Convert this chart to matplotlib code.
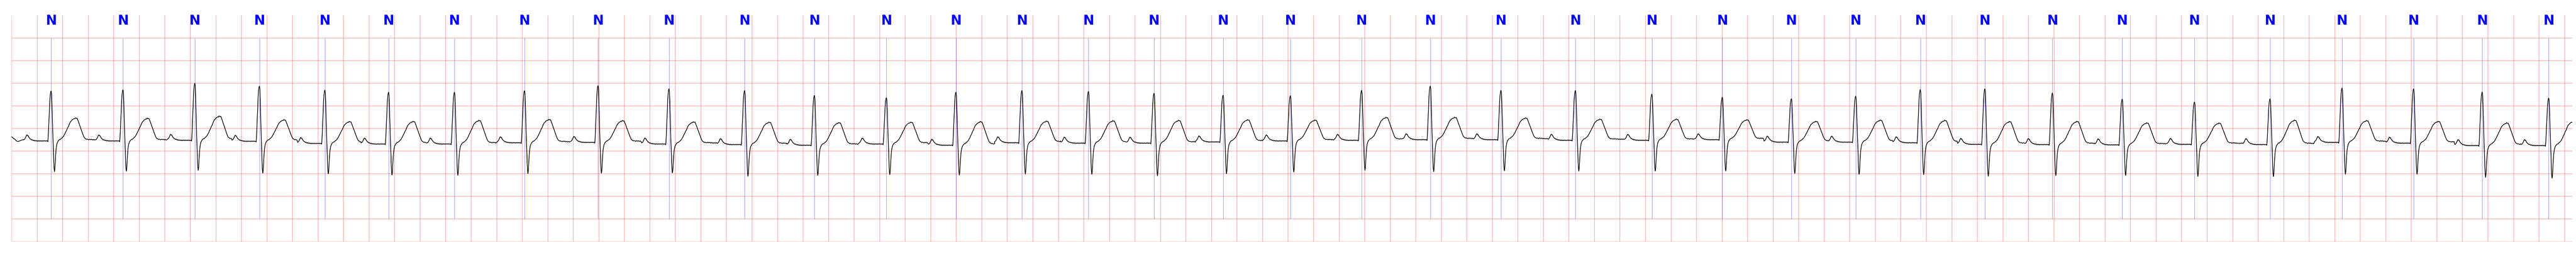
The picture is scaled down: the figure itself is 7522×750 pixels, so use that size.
import numpy as np
import matplotlib

matplotlib.use("Agg")
import matplotlib.pyplot as plt

# R-peak times (s) of the annotated beats, all labelled "N"
beat_times = [
    0.309, 0.872, 1.435, 1.941, 2.454, 2.953, 3.469, 4.018, 4.594, 5.150,
    5.742, 6.289, 6.853, 7.398, 7.915, 8.436, 8.950, 9.491, 10.018, 10.576,
    11.114, 11.668, 12.251, 12.850, 13.402, 13.943, 14.447, 14.953, 15.459, 15.988,
    16.535, 17.101, 17.693, 18.257, 18.818, 19.355, 19.876,
]
beat_labels = ["N"] * len(beat_times)

# per-beat levels (mV)
baseline_mv = [
    -0.278, -0.278, -0.264, -0.286, -0.333, -0.346, -0.346, -0.319, -0.311, -0.346,
    -0.359, -0.373, -0.346, -0.373, -0.319, -0.327, -0.327, -0.300, -0.278, -0.264,
    -0.251, -0.251, -0.264, -0.264, -0.251, -0.305, -0.305, -0.319, -0.354, -0.359,
    -0.365, -0.354, -0.359, -0.311, -0.327, -0.381, -0.381,
]
r_peak_mv = [
    0.826, 0.853, 0.998, 0.934, 0.845, 0.798, 0.798, 0.831, 0.945, 0.874,
    0.836, 0.728, 0.677, 0.798, 0.836, 0.817, 0.774, 0.733, 0.723, 0.839,
    0.934, 0.839, 0.836, 0.758, 0.690, 0.655, 0.712, 0.858, 0.874, 0.783,
    0.647, 0.582, 0.655, 0.891, 0.874, 0.804, 0.669,
]
s_trough_mv = [
    -0.955, -0.946, -0.927, -0.987, -1.003, -1.030, -1.036, -0.998, -0.990, -0.982,
    -1.058, -1.041, -1.022, -1.030, -1.009, -1.014, -1.049, -0.998, -0.963, -0.927,
    -0.955, -0.936, -0.944, -0.941, -0.941, -0.995, -1.014, -1.022, -1.058, -1.044,
    -1.039, -1.063, -1.063, -1.011, -1.011, -1.082, -1.101,
]
t_peak_mv = [
    0.236, 0.230, 0.277, 0.195, 0.155, 0.160, 0.182, 0.203, 0.177, 0.149,
    0.142, 0.133, 0.142, 0.155, 0.165, 0.173, 0.182, 0.195, 0.187, 0.249,
    0.249, 0.236, 0.209, 0.209, 0.195, 0.160, 0.187, 0.182, 0.155, 0.160,
    0.127, 0.122, 0.187, 0.177, 0.160, 0.127, 0.160,
]

# trace before the first beat's P wave (s, mV)
lead_in_t = [0.0, 0.012, 0.024, 0.036, 0.048, 0.060, 0.075, 0.085]
lead_in_mv = [-0.183, -0.220, -0.237, -0.275, -0.290, -0.280, -0.262, -0.250]

# beat shape read from one complex: offset from R (ms), kind, value
# B = mV above baseline, R/S/T = fraction of that beat's R, S or T amplitude
tmpl_ms = [
    -215, -209, -203, -198, -193, -189, -185, -181, -176, -171, -165, -159, -153,
    -147, -141, -135, -129, -123, -117, -111, -105, -99, -93, -87, -81, -75, -69,
    -63, -57, -51, -45, -39, -33, -29, -26,
    -24, -21, -18, -14, -11, -7, -3, 0, 3, 6, 9, 12, 15,
    18, 20, 23, 26, 29, 33, 36, 39, 43, 46, 50,
    56, 62, 67, 73, 79, 85, 91, 97, 102, 108, 113, 118, 124, 130, 136, 142, 148,
    154, 160, 166, 172, 178, 184, 190, 196, 203, 209, 217, 223, 230, 236, 243,
    249, 257, 263, 270, 276, 282,
    288, 295, 302, 309, 316, 323, 330, 337, 344, 351, 358, 365, 372, 379, 386,
    393, 400, 407, 414, 421,
]
tmpl_kind = (
    ["B"] * 35 + ["R"] * 13 + ["S"] * 11 + ["T"] * 38 + ["B"] * 20
)
tmpl_val = [
    0.025, 0.035, 0.060, 0.090, 0.125, 0.135, 0.115, 0.120, 0.085, 0.070, 0.045,
    0.040, 0.020, 0.028, 0.008, 0.018, 0.000, 0.012, -0.004, 0.009, -0.007, 0.007,
    -0.006, 0.008, -0.005, 0.006, -0.006, 0.007, -0.004, 0.008, -0.005, 0.006,
    -0.004, 0.004, -0.015,
    0.05, 0.18, 0.38, 0.58, 0.79, 0.92, 0.99, 1.00, 0.95, 0.76, 0.48, 0.22, 0.00,
    0.32, 0.62, 0.90, 1.00, 0.93, 0.62, 0.42, 0.25, 0.14, 0.08, 0.04,
    0.01, 0.04, 0.07, 0.07, 0.11, 0.13, 0.17, 0.20, 0.26, 0.31, 0.38, 0.43, 0.50,
    0.58, 0.63, 0.72, 0.79, 0.85, 0.87, 0.92, 0.93, 0.96, 0.95, 1.00, 0.97, 0.98,
    0.90, 0.78, 0.68, 0.58, 0.48, 0.37, 0.28, 0.17, 0.12, 0.10, 0.07, 0.08,
    0.035, 0.025, 0.040, 0.028, 0.038, 0.022, 0.034, 0.020, 0.030, 0.018, 0.030,
    0.020, 0.032, 0.020, 0.030, 0.018, 0.028, 0.020, 0.030, 0.020,
]

T_END = 20.06
PRE = -0.215

# stitch the beats together from the template
sig_t = list(lead_in_t)
sig_mv = list(lead_in_mv)
for i, r in enumerate(beat_times):
    base = baseline_mv[i]
    amp = {"B": 1.0, "R": r_peak_mv[i] - base, "S": base - s_trough_mv[i],
           "T": t_peak_mv[i] - base}
    sign = {"B": 1.0, "R": 1.0, "S": -1.0, "T": 1.0}
    limit = beat_times[i + 1] + PRE if i + 1 < len(beat_times) else T_END + 0.5
    for ms, kind, v in zip(tmpl_ms, tmpl_kind, tmpl_val):
        t = r + ms / 1000.0
        if t >= limit:
            break
        sig_t.append(t)
        sig_mv.append(base + sign[kind] * v * amp[kind])

fig = plt.figure(figsize=(75.22, 7.5), dpi=100)
ax = fig.add_axes([0.004547, 0.0604, 0.993991, 0.88])
ax.set_xlim(0, T_END)
ax.set_ylim(-2.5, 2.5)
ax.axis("off")

# ECG paper grid: 0.2 s by 0.5 mV
ax.vlines(np.arange(0, 20.001, 0.2), -2.5, 2.5, color="red", alpha=0.28, lw=1.5)
ax.hlines(np.arange(-2.5, 2.4, 0.5), 0, T_END, color="red", alpha=0.28, lw=1.5)

# beat annotations
ax.vlines(beat_times, -2.0, 2.0, color="blue", alpha=0.5, lw=0.8)
for t, lab in zip(beat_times, beat_labels):
    ax.text(t, 2.295, lab, ha="center", va="baseline", color="blue",
            fontsize=28, fontweight="bold",
            family=["Liberation Sans Narrow", "DejaVu Sans"])

ax.plot(sig_t, sig_mv, color="black", lw=1.4)

fig.savefig("out.png", dpi=100)
plt.close(fig)
